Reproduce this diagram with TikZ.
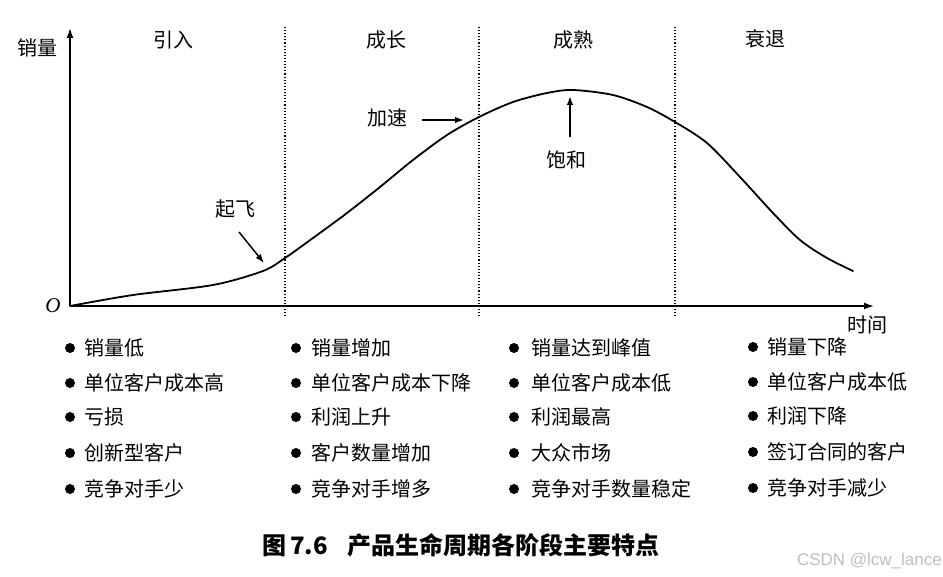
\documentclass[tikz,border=0pt]{standalone}
\usepackage{fontspec}
\setmainfont{Noto Sans CJK SC}
\newfontfamily\latinserif{Liberation Serif}
\newfontfamily\wmfont{Liberation Sans}
\usetikzlibrary{arrows.meta}
\begin{document}
\begin{tikzpicture}[x=1pt,y=-1pt,
  lbl/.style={inner sep=0pt, font=\fontsize{20}{20}\selectfont},
  item/.style={anchor=west, inner sep=0pt, font=\fontsize{20}{20}\selectfont},
  dotmark/.style={circle, fill=black, minimum size=10pt, inner sep=0pt},
  axisline/.style={line width=1.6pt, -{Latex[length=10pt,width=7pt]}},
  divider/.style={dotted, line width=1.1pt},
  pointer/.style={line width=1.5pt, -{Latex[length=9pt,width=6.5pt]}},
  curveline/.style={line width=1.8pt, line join=round, line cap=round},
  ]
\useasboundingbox (0,0) rectangle (943,577);
\fill[white] (0,0) rectangle (943,577);

% axes
\coordinate (origin) at (70,306);
\coordinate (yend) at (70,28);
\coordinate (xend) at (874,306);
\draw[axisline] (origin) -- (yend);
\draw[axisline] (origin) -- (xend);
\node[lbl] (ylabel) at (37,48) {销量};
\node[lbl] (xlabel) at (867,325) {时间};
\node[inner sep=0pt, font=\latinserif\itshape\fontsize{21}{21}\selectfont] (o) at (53,306) {O};

% dividers
\foreach \x/\n in {285/d1,479/d2,675/d3}{
  \coordinate (\n top) at (\x,27);
  \coordinate (\n bot) at (\x,318);
  \draw[divider] (\n top) -- (\n bot);
}

% stage labels
\node[lbl] (s1) at (173,40) {引入};
\node[lbl] (s2) at (386,40) {成长};
\node[lbl] (s3) at (573,40) {成熟};
\node[lbl] (s4) at (765,39) {衰退};

% curve
\draw[curveline] plot[smooth, tension=0.5] coordinates {
  (70,306) (133,295) (213,285) (263,271) (285,258) (313,238) (347,213)
  (380,187) (413,160) (447,135) (479,117) (513,102) (547,93) (573,90)
  (613,95) (647,107) (675,122) (707,143) (740,177) (773,213) (800,240)
  (827,258) (853,271)};

% annotations
\node[lbl] (qf) at (235,209) {起飞};
\coordinate (qfs) at (239,232);
\coordinate (qfe) at (264,263);
\draw[pointer] (qfs) -- (qfe);

\node[lbl] (js) at (387,118) {加速};
\coordinate (jss) at (422,120);
\coordinate (jse) at (464,120);
\draw[pointer] (jss) -- (jse);

\node[lbl] (bh) at (566,160) {饱和};
\coordinate (bhs) at (570,137);
\coordinate (bhe) at (570,96);
\draw[pointer] (bhs) -- (bhe);

% bullet lists
\foreach \row/\y in {1/348,2/383,3/417,4/453,5/489}{
  \node[dotmark] (a\row) at (70,\y) {};
  \node[dotmark] (b\row) at (296,\y) {};
  \node[dotmark] (c\row) at (514,\y) {};
  \node[dotmark] (e\row) at (753,\y-1) {};
}
\node[item] at (84,348) {销量低};
\node[item] at (84,383) {单位客户成本高};
\node[item] at (84,417) {亏损};
\node[item] at (84,453) {创新型客户};
\node[item] at (84,489) {竞争对手少};

\node[item] at (311,348) {销量增加};
\node[item] at (311,383) {单位客户成本下降};
\node[item] at (311,417) {利润上升};
\node[item] at (311,453) {客户数量增加};
\node[item] at (311,489) {竞争对手增多};

\node[item] at (531,348) {销量达到峰值};
\node[item] at (531,383) {单位客户成本低};
\node[item] at (531,417) {利润最高};
\node[item] at (531,453) {大众市场};
\node[item] at (531,489) {竞争对手数量稳定};

\node[item] at (767,347) {销量下降};
\node[item] at (767,382) {单位客户成本低};
\node[item] at (767,416) {利润下降};
\node[item] at (767,452) {签订合同的客户};
\node[item] at (767,488) {竞争对手减少};

% caption
\node[inner sep=0pt, anchor=west, font=\bfseries\fontsize{24}{24}\selectfont] (cap) at (262,545) {图\,7.6\hspace{0.8em}产品生命周期各阶段主要特点};
\node[inner sep=0pt, anchor=east, text=black!25, font=\wmfont\fontsize{17}{17}\selectfont] (wm) at (942,561) {CSDN @lcw\_lance};
\end{tikzpicture}
\end{document}
